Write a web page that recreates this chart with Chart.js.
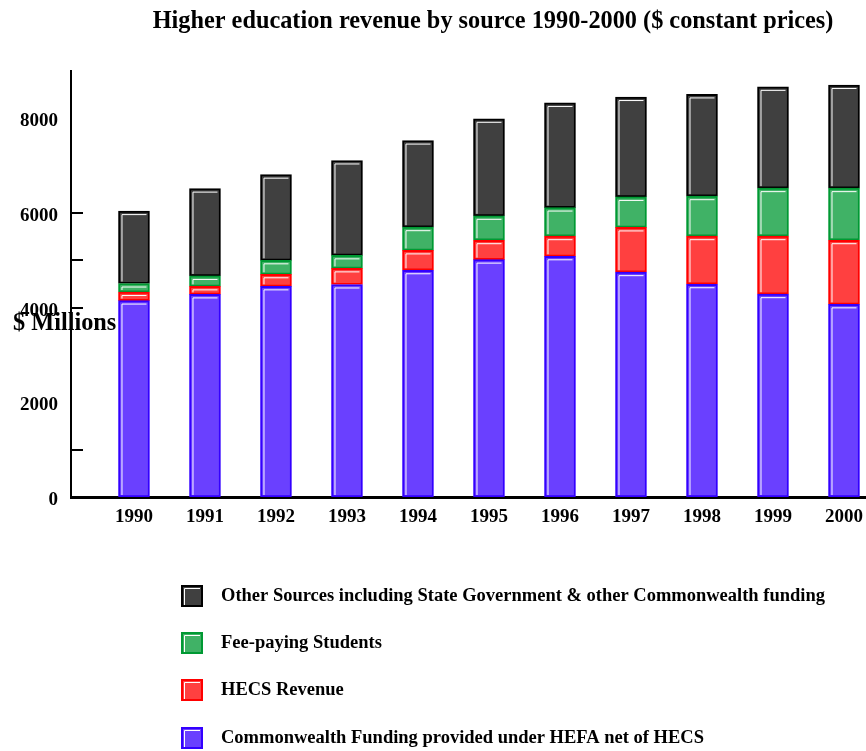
<!DOCTYPE html>
<html><head><meta charset="utf-8">
<script src="https://cdn.jsdelivr.net/npm/chart.js@4.4.1/dist/chart.umd.min.js"></script>
<style>html,body{margin:0;padding:0;background:#fff}#wrap{width:866px;height:751px;position:relative}</style>
</head><body><div id="wrap"><canvas id="c" width="866" height="751"></canvas></div>
<script>
const years = [1990, 1991, 1992, 1993, 1994, 1995, 1996, 1997, 1998, 1999, 2000];
const commonwealth = [4150, 4280, 4450, 4490, 4790, 5015, 5085, 4750, 4495, 4285, 4070];
const hecs = [180, 170, 255, 340, 420, 410, 425, 945, 1015, 1225, 1355];
const feePaying = [180, 220, 295, 275, 490, 515, 605, 645, 845, 1015, 1100];
const otherSources = [1530, 1845, 1810, 2005, 1830, 2050, 2210, 2110, 2150, 2140, 2180];
const yTickLabels = [0, 2000, 4000, 6000, 8000];
const yTickMarks = [1000, 4000, 5000, 6000];
const seriesNames = [
  'Commonwealth Funding provided under HEFA net of HECS',
  'HECS Revenue',
  'Fee-paying Students',
  'Other Sources including State Government & other Commonwealth funding'
];
const fills = ['#6a40ff', '#ff4040', '#40b266', '#404040'];
const borders = ['#3300ff', '#ff0000', '#009933', '#000000'];
const titleText = 'Higher education revenue by source 1990-2000 ($ constant prices)';
const yTitle = '$ Millions';

const FONT = '"Liberation Serif","Times New Roman",Times,serif';
const seriesValues = [commonwealth, hecs, feePaying, otherSources];

const datasets = seriesValues.map((vals, i) => ({
  label: seriesNames[i],
  data: vals.map((v, j) => ({x: years[j], y: v})),
  backgroundColor: fills[i],
  borderColor: borders[i],
  borderWidth: 2,
  borderSkipped: false,
  barThickness: 31
}));

function bevel(ctx, l, t, r, b) {
  ctx.save();
  ctx.strokeStyle = '#ffffff';
  ctx.lineWidth = 1;
  ctx.beginPath();
  ctx.moveTo(l + 3.5, b - 2);
  ctx.lineTo(l + 3.5, t + 3.5);
  ctx.lineTo(r - 3, t + 3.5);
  ctx.stroke();
  ctx.restore();
}

const decor = {
  id: 'decor',
  afterDatasetsDraw(chart) {
    const ctx = chart.ctx;
    chart.data.datasets.forEach((ds, i) => {
      chart.getDatasetMeta(i).data.forEach(el => {
        const {x, y, base, width} = el.getProps(['x', 'y', 'base', 'width'], true);
        const l = x - width / 2, r = x + width / 2;
        const t = Math.min(y, base), b = Math.max(y, base);
        bevel(ctx, l, t, r, b);
      });
    });
  },
  afterDraw(chart) {
    const ctx = chart.ctx;
    const ys = chart.scales.y;
    ctx.save();
    ctx.strokeStyle = '#000';
    ctx.lineWidth = 2;
    ctx.beginPath();
    yTickMarks.forEach(v => {
      const p = Math.round(ys.getPixelForValue(v));
      ctx.moveTo(ys.right, p);
      ctx.lineTo(ys.right + 12, p);
    });
    ctx.stroke();
    ctx.fillStyle = '#000';
    ctx.font = 'bold 24.3px ' + FONT;
    ctx.textAlign = 'center';
    ctx.textBaseline = 'middle';
    ctx.fillText(titleText, 493, 22);
    ctx.textAlign = 'left';
    ctx.fillText(yTitle, 13, 324);
    ctx.font = 'bold 18.5px ' + FONT;
    const rows = [596, 643, 690, 738];
    for (let k = 0; k < 4; k++) {
      const i = 3 - k;
      const cy = rows[k];
      const l = 181, t = cy - 11, r = 203, b = cy + 11;
      ctx.fillStyle = borders[i];
      ctx.fillRect(l, t, r - l, b - t);
      ctx.fillStyle = fills[i];
      ctx.fillRect(l + 2, t + 2, r - l - 4, b - t - 4);
      bevel(ctx, l, t, r, b);
      ctx.fillStyle = '#000';
      ctx.textAlign = 'left';
      ctx.textBaseline = 'middle';
      ctx.fillText(seriesNames[i], 221, cy);
    }
    ctx.restore();
  }
};

const tickFont = {family: FONT, weight: 'bold', size: 19};

new Chart(document.getElementById('c'), {
  type: 'bar',
  data: {datasets},
  options: {
    responsive: false,
    animation: false,
    events: [],
    layout: {padding: {top: 71, bottom: 214, left: 0, right: 0}},
    plugins: {legend: {display: false}, tooltip: {enabled: false}, title: {display: false}},
    scales: {
      x: {
        type: 'linear', stacked: true, min: 1989.113, max: 2000.31, offset: false, z: 1,
        grid: {display: false},
        border: {display: true, color: '#000', width: 3},
        ticks: {autoSkip: false, maxRotation: 0, color: '#000',
                padding: 1, font: tickFont, callback: v => String(v)},
        afterBuildTicks: s => { s.ticks = years.map(v => ({value: v})); },
        afterFit: s => { s.height = 40; s.paddingLeft = 0; s.paddingRight = 0; }
      },
      y: {
        stacked: true, min: 0, max: 9000,
        grid: {display: false},
        border: {display: true, color: '#000', width: 2},
        ticks: {autoSkip: false, color: '#000', padding: 5, labelOffset: 3, font: tickFont, callback: v => String(v)},
        afterBuildTicks: s => { s.ticks = yTickLabels.map(v => ({value: v})); },
        afterFit: s => { s.width = 71; s.paddingTop = 0; s.paddingBottom = 0; }
      }
    }
  },
  plugins: [decor]
});
</script>
</body></html>
